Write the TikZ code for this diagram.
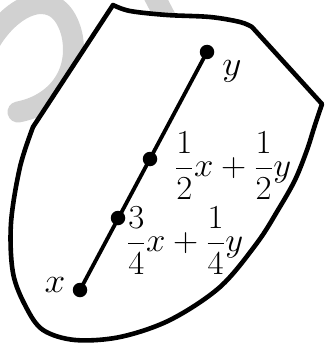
\documentclass[tikz,border=0pt]{standalone}
\usepackage{graphicx}
\begin{document}
\begin{tikzpicture}[x=1pt,y=-1pt,
  boundary/.style={line width=4.6pt, line join=round, fill=white},
  watermark/.style={line width=21pt, line cap=round, draw=black!18},
  dot/.style={circle, fill=black, inner sep=0pt, minimum size=14.5pt},
  seg/.style={line width=3.8pt},
  lab/.style={font=\fontsize{24}{28}\selectfont, inner sep=0pt}]
\useasboundingbox (0,0) rectangle (324,345);
\clip (0,0) rectangle (324,345);
% watermark
\draw[watermark] (-10,42) .. controls (15,0) and (60,-15) .. (72,35) .. controls (80,75) and (55,105) .. (18,112);
\draw[watermark] (150,-12) -- (172,30);
% boundary
\draw[boundary] (113,5) -- (33,127)
  -- plot[smooth, tension=0.55] coordinates {(33,127) (20,167) (11,223) (13,273) (26,307) (43,330) (75,340) (120,337) (170,320) (220,287) (257,243) (278,210) (295,180) (307,150) (314,128) (322,104)}
  -- (252,27)
  -- plot[smooth, tension=0.55] coordinates {(252,27) (240,22) (210,17) (167,15) (130,11) (113,5)}
  -- cycle;
% segment
\node[dot] (X) at (80,290) {};
\node[dot] (Y) at (207,52) {};
\node[dot] (Q) at (118,218) {};
\node[dot] (M) at (150,159) {};
\draw[seg] (X.center) -- (Y.center);
% labels
\node[lab] (lx) at (55,285) {\scalebox{1.5}[1.4]{$x$}};
\node[lab] (ly) at (232,71) {\scalebox{1.5}[1.4]{$y$}};
\node[lab] (lm) at (233,166) {\scalebox{1.4}[1.35]{$\displaystyle \frac{1}{2}x+\frac{1}{2}y$}};
\node[lab] (lq) at (185,241) {\scalebox{1.4}[1.35]{$\displaystyle \frac{3}{4}x+\frac{1}{4}y$}};
\end{tikzpicture}
\end{document}
